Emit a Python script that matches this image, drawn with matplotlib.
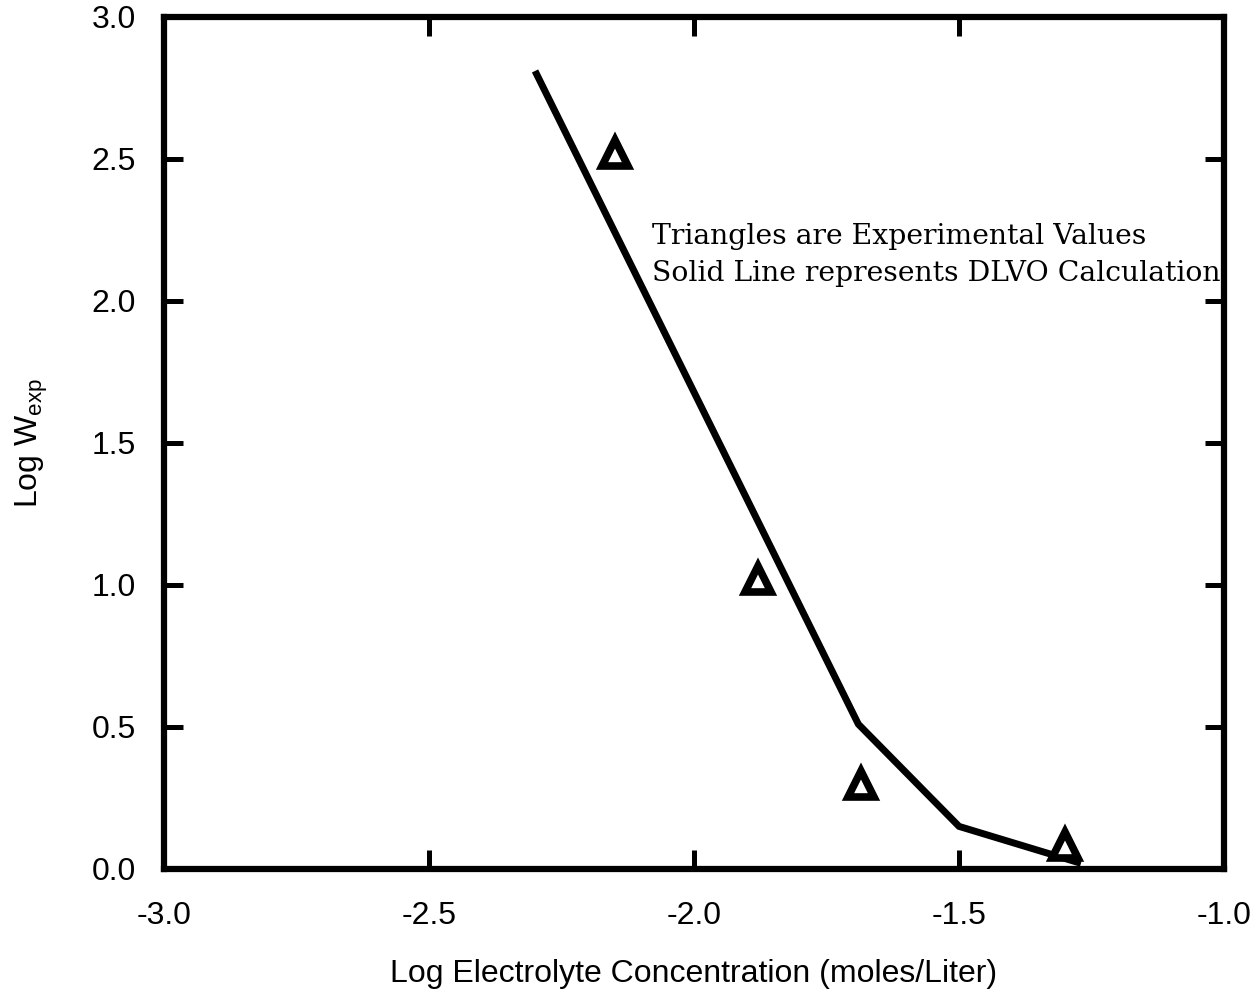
import numpy as np
import matplotlib
matplotlib.use("Agg")
import matplotlib.pyplot as plt

# DLVO calculation (solid line)
dlvo_x = [-2.30, -1.69, -1.50, -1.27]
dlvo_y = [2.81, 0.51, 0.15, 0.02]

# experimental values (triangles)
exp_x = [-2.15, -1.88, -1.685, -1.30]
exp_y = [2.52, 1.02, 0.30, 0.085]

xticks = [-3.0, -2.5, -2.0, -1.5, -1.0]
yticks = [0.0, 0.5, 1.0, 1.5, 2.0, 2.5, 3.0]

plt.rcParams['font.family'] = ['Liberation Sans', 'DejaVu Sans']
plt.rcParams['mathtext.fontset'] = 'custom'
plt.rcParams['mathtext.rm'] = 'Liberation Sans'

fig = plt.figure(figsize=(12.53, 10), dpi=100)
ax = fig.add_axes([0.1309, 0.131, 0.846, 0.852])

ax.plot(dlvo_x, dlvo_y, color='black', linewidth=5, solid_capstyle='butt',
        solid_joinstyle='miter', zorder=2)
ax.plot(exp_x, exp_y, linestyle='none', marker='^', markersize=19,
        markerfacecolor='white', markeredgecolor='black', markeredgewidth=5.5,
        zorder=3)

ax.set_xlim(-3.0, -1.0)
ax.set_ylim(0.0, 3.0)
ax.set_xticks(xticks)
ax.set_yticks(yticks)
ax.set_xticklabels([f"{v:.1f}" for v in xticks])
ax.set_yticklabels([f"{v:.1f}" for v in yticks])

ax.tick_params(axis='both', direction='in', length=14, width=3.6,
               top=True, right=True, labelsize=23, color='black')
ax.tick_params(axis='x', pad=23)
ax.tick_params(axis='y', pad=20)
for sp in ax.spines.values():
    sp.set_linewidth(4.5)

ax.set_xlabel("Log Electrolyte Concentration (moles/Liter)", fontsize=23, labelpad=20)
ax.set_ylabel("Log W$_{\\mathrm{exp}}$", fontsize=23, labelpad=30)

ax.text(-2.079, 2.20, "Triangles are Experimental Values",
        family='DejaVu Serif', fontsize=20.3, ha='left', va='baseline')
ax.text(-2.079, 2.07, "Solid Line represents DLVO Calculation",
        family='DejaVu Serif', fontsize=20.3, ha='left', va='baseline')

fig.savefig("out.png", dpi=100)
